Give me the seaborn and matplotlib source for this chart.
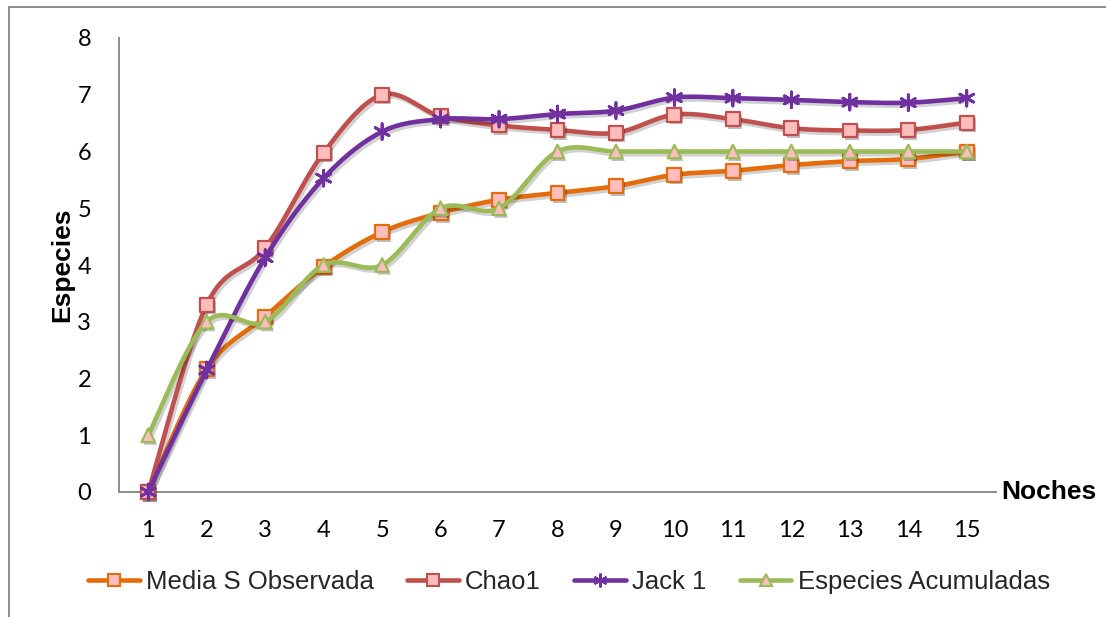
import numpy as np
import matplotlib
matplotlib.use("Agg")
import matplotlib.pyplot as plt
import matplotlib.patheffects as pe
from matplotlib.lines import Line2D
import seaborn as sns

# Species accumulation by night
noches = list(range(1, 16))
media_s_observada = [0, 2.17, 3.09, 3.97, 4.58, 4.92, 5.15, 5.27, 5.39, 5.59, 5.66, 5.76, 5.83, 5.87, 6.0]
chao1 = [0, 3.3, 4.3, 5.98, 7.0, 6.62, 6.46, 6.38, 6.33, 6.65, 6.57, 6.41, 6.37, 6.38, 6.51]
jack1 = [0, 2.15, 4.13, 5.53, 6.35, 6.57, 6.57, 6.66, 6.72, 6.95, 6.94, 6.91, 6.87, 6.86, 6.94]
especies_acumuladas = [1, 3, 3, 4, 4, 5, 5, 6, 6, 6, 6, 6, 6, 6, 6]

series_names = ["Media S Observada", "Chao1", "Jack 1", "Especies Acumuladas"]
series_values = [media_s_observada, chao1, jack1, especies_acumuladas]
y_ticks = list(range(0, 9))

colors = ["#E46C0A", "#C0504D", "#7030A0", "#9BBB59"]
markers = ["s", "s", (6, 2, 0), "^"]
marker_sizes = [100, 100, 130, 95]
face_pink = "#FFBDBD"


def smooth(xs, ys, n=30):
    """Bezier smoothing through every point (cardinal spline, 1/6 handles)."""
    p = np.column_stack([xs, ys]).astype(float)
    out = [p[:1]]
    t = np.linspace(0, 1, n)[1:, None]
    for i in range(len(p) - 1):
        p0 = p[i - 1] if i > 0 else p[i]
        p1, p2 = p[i], p[i + 1]
        p3 = p[i + 2] if i + 2 < len(p) else p[i + 1]
        c1 = p1 + (p2 - p0) / 6
        c2 = p2 - (p3 - p1) / 6
        seg = ((1 - t) ** 3) * p1 + 3 * ((1 - t) ** 2) * t * c1 + 3 * (1 - t) * t ** 2 * c2 + t ** 3 * p2
        out.append(seg)
    return np.vstack(out)


sns.set_theme(style="white")
plt.rcParams["font.family"] = ["Liberation Sans", "DejaVu Sans"]

fig = plt.figure(figsize=(11.06, 6.17), dpi=100)
ax = fig.add_axes([119 / 1106, 1 - 492 / 617, (996 - 119) / 1106, (492 - 38) / 617])

shadow = [pe.SimpleLineShadow(offset=(1.5, -2), shadow_color="black", alpha=0.18), pe.Normal()]
pshadow = [pe.SimplePatchShadow(offset=(1.5, -2), shadow_rgbFace="black", alpha=0.25), pe.Normal()]

for k, (name, vals) in enumerate(zip(series_names, series_values)):
    curve = smooth(noches, vals)
    sns.lineplot(x=curve[:, 0], y=curve[:, 1], sort=False, estimator=None, ax=ax,
                 color=colors[k], linewidth=3.3, zorder=3 + 2 * k,
                 path_effects=shadow, clip_on=False)
    sns.scatterplot(x=noches, y=vals, ax=ax, marker=markers[k], s=marker_sizes[k],
                    color=face_pink if k != 2 else colors[k], edgecolor=colors[k],
                    linewidth=1.6 if k != 2 else 2.0, zorder=4 + 2 * k,
                    clip_on=False, path_effects=pshadow, legend=False)

ax.set_xlim(0.5, 15.5)
ax.set_ylim(0, 8)
ax.set_xticks(noches)
ax.set_yticks(y_ticks)
ax.tick_params(axis="both", length=0)
ax.tick_params(axis="x", pad=20)
ax.tick_params(axis="y", pad=20)
for lab in ax.get_xticklabels() + ax.get_yticklabels():
    lab.set_fontfamily(["Lato", "DejaVu Sans"])
    lab.set_fontsize(17)
    lab.set_color("black")

for side in ["top", "right"]:
    ax.spines[side].set_visible(False)
for side in ["left", "bottom"]:
    ax.spines[side].set_color("#8C8C8C")
    ax.spines[side].set_linewidth(1.4)
ax.grid(False)
ax.set_xlabel("")
ax.set_ylabel("Especies", fontsize=19, fontweight="bold", color="black", labelpad=2)
ax.text(1.006, 0, "Noches", transform=ax.transAxes, ha="left", va="center",
        fontsize=19, fontweight="bold", color="black")

handles = [
    Line2D([], [], color=colors[k], lw=3.3, marker=markers[k],
           markersize=8 if k != 2 else 10,
           markerfacecolor=face_pink if k != 2 else colors[k],
           markeredgecolor=colors[k], markeredgewidth=1.5)
    for k in range(4)
]
fig.legend(handles, series_names, loc="center", ncol=4, frameon=False,
           bbox_to_anchor=(569 / 1106, 1 - 582 / 617), fontsize=18.5,
           handlelength=2.0, handletextpad=0.25, columnspacing=1.3)

# outer chart frame (left and top edges)
fig.add_artist(Line2D([9 / 1106, 9 / 1106], [0, 1 - 7 / 617], transform=fig.transFigure,
                      color="#8C8C8C", lw=1.4))
fig.add_artist(Line2D([9 / 1106, 1], [1 - 7 / 617, 1 - 7 / 617], transform=fig.transFigure,
                      color="#8C8C8C", lw=1.4))

fig.savefig("out.png", dpi=100)
